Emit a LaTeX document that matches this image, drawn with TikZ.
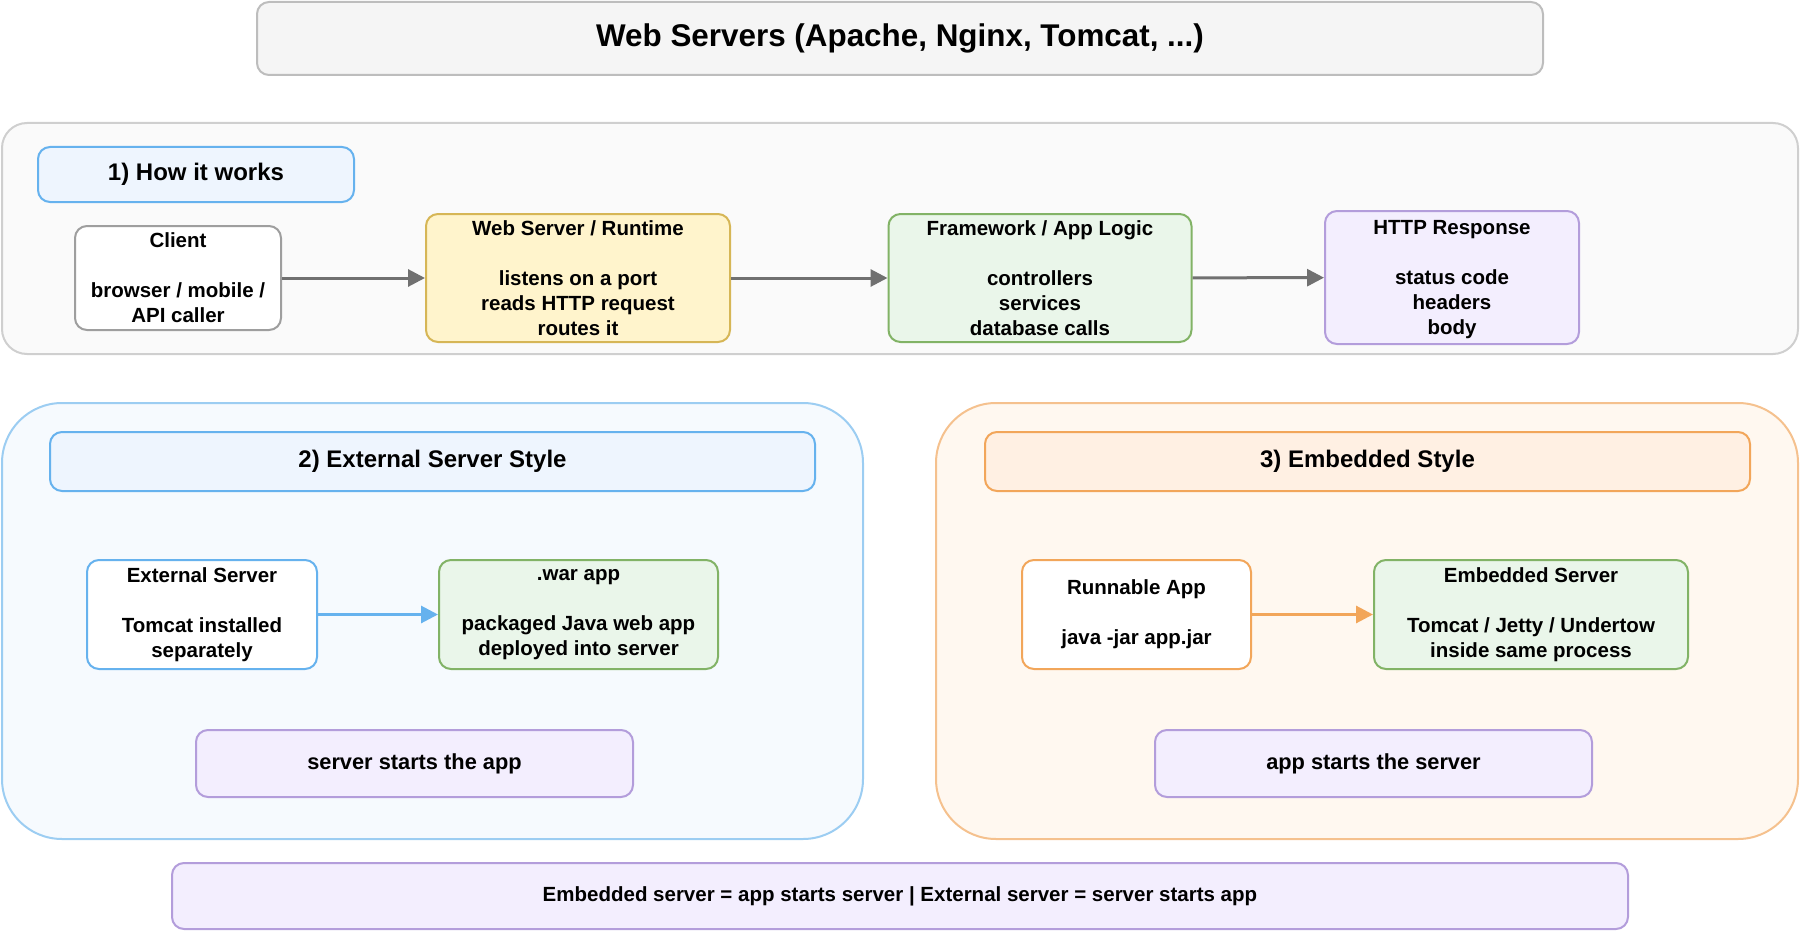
\documentclass[tikz,border=0pt]{standalone}
\usepackage{fontspec}
\setmainfont{Liberation Sans}
\usetikzlibrary{arrows.meta}
\definecolor{titlefill}{HTML}{F5F5F5}
\definecolor{titleline}{HTML}{BDBDBD}
\definecolor{panelfill}{HTML}{FAFAFA}
\definecolor{panelline}{HTML}{CFCFCF}
\definecolor{bluefill}{HTML}{EEF5FE}
\definecolor{blueline}{HTML}{66B2EE}
\definecolor{bluepanel}{HTML}{F6FAFE}
\definecolor{bluepline}{HTML}{9CCDF2}
\definecolor{orangefill}{HTML}{FFF0E3}
\definecolor{orangeline}{HTML}{F2A65A}
\definecolor{orangepanel}{HTML}{FFF8F0}
\definecolor{orangepline}{HTML}{F5C18E}
\definecolor{yellowfill}{HTML}{FFF4CC}
\definecolor{yellowline}{HTML}{D6B656}
\definecolor{greenfill}{HTML}{EAF6EA}
\definecolor{greenline}{HTML}{82B366}
\definecolor{purplefill}{HTML}{F3EEFE}
\definecolor{purpleline}{HTML}{B39DDB}
\definecolor{greyline}{HTML}{9E9E9E}
\definecolor{flowgrey}{HTML}{707070}
\begin{document}
\begin{tikzpicture}[x=1pt, y=-1pt,
        font=\fontsize{20.5}{25}\selectfont\bfseries,
        box/.style={draw, line width=2pt, rounded corners=12pt, align=center, inner sep=0pt},
        panel/.style={draw, line width=2pt, inner sep=0pt},
        header/.style={box, fill=bluefill, draw=blueline, font=\fontsize{24}{29}\selectfont\bfseries},
        yellowbox/.style={box, fill=yellowfill, draw=yellowline},
        greenbox/.style={box, fill=greenfill, draw=greenline},
        purplebox/.style={box, fill=purplefill, draw=purpleline},
        notebox/.style={purplebox, font=\fontsize{21.8}{26}\selectfont\bfseries},
        flow/.style={line width=3pt, -{Triangle[length=17pt, width=17pt]}}]
    \useasboundingbox (0, 0) rectangle (1800, 931);
    % title
    \node[box, fill=titlefill, draw=titleline, minimum width=1286pt, minimum height=73pt,
        font=\fontsize{31.4}{37}\selectfont\bfseries] (title) at (900, 38.5) {Web Servers (Apache, Nginx, Tomcat, ...)};
    % 1) request flow
    \node[panel, rounded corners=25pt, fill=panelfill, draw=panelline, minimum width=1796pt, minimum height=231pt] (howpanel) at (900, 238.5) {};
    \node[header, minimum width=316pt, minimum height=55pt] (howhead) at (196, 174.5) {1) How it works};
    \node[box, fill=white, draw=greyline, minimum width=206pt, minimum height=104pt] (client) at (178, 278) {Client\\[25pt]browser / mobile /\\API caller};
    \node[yellowbox, minimum width=304pt, minimum height=128pt] (runtime) at (578, 278) {Web Server / Runtime\\[25pt]listens on a port\\reads HTTP request\\routes it};
    \node[greenbox, minimum width=303pt, minimum height=128pt] (logic) at (1040, 278) {Framework / App Logic\\[25pt]controllers\\services\\database calls};
    \node[purplebox, text depth=0pt, minimum width=254pt, minimum height=133pt] (response) at (1452, 277.5) {HTTP Response\\[25pt]status code\\headers\\body};
    \draw[flow, flowgrey] (client) -- (runtime);
    \draw[flow, flowgrey] (runtime) -- (logic);
    \draw[flow, flowgrey] (logic) -- (response);
    % 2) external server
    \node[panel, rounded corners=60pt, fill=bluepanel, draw=bluepline, minimum width=861pt, minimum height=436pt] (extpanel) at (432.5, 621) {};
    \node[header, minimum width=765pt, minimum height=59pt] (exthead) at (432.5, 461.5) {2) External Server Style};
    \node[box, fill=white, draw=blueline, minimum width=230pt, minimum height=109pt] (extserver) at (202, 614.5) {External Server\\[25pt]Tomcat installed\\separately};
    \node[greenbox, minimum width=279pt, minimum height=109pt] (warapp) at (578.5, 614.5) {.war app\\[25pt]packaged Java web app\\deployed into server};
    \node[notebox, minimum width=437pt, minimum height=67pt] (extnote) at (414.5, 763.5) {server starts the app};
    \draw[flow, blueline] (extserver) -- (warapp);
    % 3) embedded server
    \node[panel, rounded corners=60pt, fill=orangepanel, draw=orangepline, minimum width=862pt, minimum height=436pt] (embpanel) at (1367, 621) {};
    \node[header, fill=orangefill, draw=orangeline, minimum width=765pt, minimum height=59pt] (embhead) at (1367.5, 461.5) {3) Embedded Style};
    \node[box, fill=white, draw=orangeline, minimum width=229pt, minimum height=109pt] (runnable) at (1136.5, 614.5) {Runnable App\\[25pt]java -jar app.jar};
    \node[greenbox, minimum width=314pt, minimum height=109pt] (embserver) at (1531, 614.5) {Embedded Server\\[25pt]Tomcat / Jetty / Undertow\\inside same process};
    \node[notebox, minimum width=437pt, minimum height=67pt] (embnote) at (1373.5, 763.5) {app starts the server};
    \draw[flow, orangeline] (runnable) -- (embserver);
    % summary
    \node[purplebox, minimum width=1456pt, minimum height=66pt] (summary) at (900, 896) {Embedded server = app starts server | External server = server starts app};
\end{tikzpicture}
\end{document}
